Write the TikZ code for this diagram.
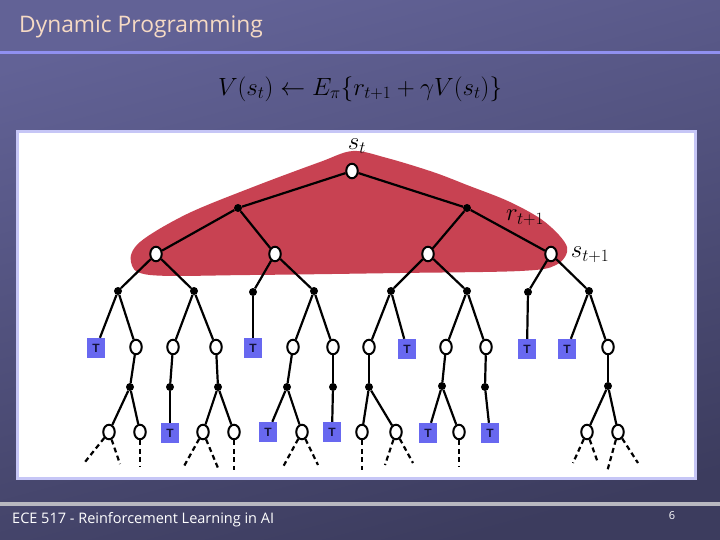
\documentclass[tikz,border=0pt]{standalone}
\usepackage{fontspec}
\setmainfont{Liberation Serif}
\newfontfamily\titlefont{Open Sans}
\newfontfamily\tfont{Liberation Sans}
\usetikzlibrary{shapes.geometric}
\definecolor{bgtop}{RGB}{98,98,150}
\definecolor{bgbot}{RGB}{60,60,94}
\definecolor{titlecol}{RGB}{246,218,196}
\definecolor{titleline}{RGB}{144,144,240}
\definecolor{panelborder}{RGB}{198,198,246}
\definecolor{footline}{RGB}{184,184,192}
\definecolor{blobred}{RGB}{200,66,82}
\definecolor{tblue}{RGB}{104,104,240}
\definecolor{tlabel}{RGB}{20,20,60}
\tikzset{
  onode/.style={ellipse, draw, line width=2pt, fill=white, minimum width=11.5pt, minimum height=14.5pt, inner sep=0pt},
  anode/.style={circle, fill=black, minimum size=8pt, inner sep=0pt},
  tnode/.style={rectangle, fill=tblue, minimum width=18pt, minimum height=20pt, inner sep=0pt, font=\tfont\bfseries\fontsize{12}{12}\selectfont, text=tlabel},
  treeedge/.style={line width=2.2pt, black},
  dashedge/.style={line width=2.2pt, black, dash pattern=on 5pt off 3.5pt},
  lbl/.style={font=\fontsize{25}{27}\selectfont, inner sep=0pt}
}
\begin{document}
\begin{tikzpicture}[x=1pt,y=-1pt]
\useasboundingbox (0,0) rectangle (720,540);
\shade[top color=bgtop, bottom color=bgbot, shading angle=15] (0,0) rectangle (720,540);
% title
\node[anchor=west, text=titlecol, font=\titlefont\fontsize{22.8}{25}\selectfont, inner sep=0pt] (title) at (19,27) {Dynamic Programming};
\draw[line width=3pt, titleline] (0,53) -- (720,53);
% formula
\node[font=\fontsize{25}{28}\selectfont, inner sep=0pt] (formula) at (360,89) {$V(s_t) \leftarrow E_{\pi}\Bigl\{r_{t+1} + \gamma V(s_t)\Bigr\}$};
% panel
\draw[line width=3pt, panelborder, fill=white] (17.5,131.5) rectangle (695.5,478.5);
% blob
\fill[blobred] plot[smooth cycle, tension=0.55] coordinates {(131,262) (140,242) (187,214) (253,187) (320,162) (353,151) (387,158) (433,172) (467,185) (510,202) (545,222) (567,247) (556,265) (520,271) (400,273) (250,275) (150,275)};
% footer
\draw[line width=4pt, footline] (0,504) -- (720,504);
\node[anchor=west, text=white, font=\titlefont\fontsize{14.5}{16}\selectfont, inner sep=0pt] (foot) at (12,520) {ECE 517 - Reinforcement Learning in AI};
\node[text=white, font=\titlefont\fontsize{11}{12}\selectfont, inner sep=0pt] (page) at (672,516) {6};
% labels
\node[lbl] (lst) at (357,146) {$s_t$};
\node[lbl] (lrt) at (525,218) {$r_{t+1}$};
\node[lbl] (lst1) at (590,255) {$s_{t+1}$};
% level 0
\node[onode] (r) at (352,171) {};
% level 1
\node[anode] (a1) at (238,208) {};
\node[anode] (a2) at (467,208) {};
% level 2
\node[onode] (s1) at (156,254) {};
\node[onode] (s2) at (275,254) {};
\node[onode] (s3) at (428,254) {};
\node[onode] (s4) at (551,254) {};
% level 3
\node[anode] (b1) at (118,291) {};
\node[anode] (b2) at (194,291) {};
\node[anode] (b3) at (253,292) {};
\node[anode] (b4) at (314,291) {};
\node[anode] (b5) at (391,291) {};
\node[anode] (b6) at (467,291) {};
\node[anode] (b7) at (528,292) {};
\node[anode] (b8) at (589,291) {};
% level 4
\node[tnode] (c1) at (96,348) {T};
\node[onode] (c2) at (136,347) {};
\node[onode] (c3) at (173,347) {};
\node[onode] (c4) at (216,347) {};
\node[tnode] (c5) at (253,348) {T};
\node[onode] (c6) at (293,347) {};
\node[onode] (c7) at (333,347) {};
\node[onode] (c8) at (369,347) {};
\node[tnode] (c9) at (407,349) {T};
\node[onode] (c10) at (446,347) {};
\node[onode] (c11) at (486,347) {};
\node[tnode] (c12) at (527,349) {T};
\node[tnode] (c13) at (567,349) {T};
\node[onode] (c14) at (608,347) {};
% level 5
\node[anode] (d2) at (130,387) {};
\node[anode] (d3) at (170,387) {};
\node[anode] (d4) at (218,387) {};
\node[anode] (d6) at (287,387) {};
\node[anode] (d7) at (333,387) {};
\node[anode] (d8) at (369,387) {};
\node[anode] (d10) at (442,386) {};
\node[anode] (d11) at (485,387) {};
\node[anode] (d14) at (608,386) {};
% level 6
\node[onode] (e1) at (109,432) {};
\node[onode] (e2) at (140,432) {};
\node[tnode] (e3) at (170,433) {T};
\node[onode] (e4) at (203,432) {};
\node[onode] (e5) at (234,432) {};
\node[tnode] (e6) at (268,432) {T};
\node[onode] (e7) at (302,432) {};
\node[tnode] (e8) at (332,432) {T};
\node[onode] (e9) at (362,432) {};
\node[onode] (e10) at (396,432) {};
\node[tnode] (e11) at (428,433) {T};
\node[onode] (e12) at (459,432) {};
\node[tnode] (e13) at (490,433) {T};
\node[onode] (e14) at (587,432) {};
\node[onode] (e15) at (618,432) {};
% dashed ends
\coordinate (f1) at (85,462);
\coordinate (f2) at (120,464);
\coordinate (f3) at (140,466);
\coordinate (f4) at (183,468);
\coordinate (f5) at (218,468);
\coordinate (f6) at (234,470);
\coordinate (f7) at (283,467);
\coordinate (f8) at (318,465);
\coordinate (f9) at (362,470);
\coordinate (f10) at (385,465);
\coordinate (f11) at (413,463);
\coordinate (f12) at (459,466);
\coordinate (f13) at (573,463);
\coordinate (f14) at (598,463);
\coordinate (f15) at (607,472);
\coordinate (f16) at (638,463);
% edges
\draw[treeedge] (r) -- (a1);
\draw[treeedge] (r) -- (a2);
\draw[treeedge] (a1) -- (s1);
\draw[treeedge] (a1) -- (s2);
\draw[treeedge] (a2) -- (s3);
\draw[treeedge] (a2) -- (s4);
\draw[treeedge] (s1) -- (b1);
\draw[treeedge] (s1) -- (b2);
\draw[treeedge] (s2) -- (b3);
\draw[treeedge] (s2) -- (b4);
\draw[treeedge] (s3) -- (b5);
\draw[treeedge] (s3) -- (b6);
\draw[treeedge] (s4) -- (b7);
\draw[treeedge] (s4) -- (b8);
\draw[treeedge] (b1) -- (c1);
\draw[treeedge] (b1) -- (c2);
\draw[treeedge] (b2) -- (c3);
\draw[treeedge] (b2) -- (c4);
\draw[treeedge] (b3) -- (c5);
\draw[treeedge] (b4) -- (c6);
\draw[treeedge] (b4) -- (c7);
\draw[treeedge] (b5) -- (c8);
\draw[treeedge] (b5) -- (c9);
\draw[treeedge] (b6) -- (c10);
\draw[treeedge] (b6) -- (c11);
\draw[treeedge] (b7) -- (c12);
\draw[treeedge] (b8) -- (c13);
\draw[treeedge] (b8) -- (c14);
\draw[treeedge] (c2) -- (d2);
\draw[treeedge] (c3) -- (d3);
\draw[treeedge] (c4) -- (d4);
\draw[treeedge] (c6) -- (d6);
\draw[treeedge] (c7) -- (d7);
\draw[treeedge] (c8) -- (d8);
\draw[treeedge] (c10) -- (d10);
\draw[treeedge] (c11) -- (d11);
\draw[treeedge] (c14) -- (d14);
\draw[treeedge] (d2) -- (e1);
\draw[treeedge] (d2) -- (e2);
\draw[treeedge] (d3) -- (e3);
\draw[treeedge] (d4) -- (e4);
\draw[treeedge] (d4) -- (e5);
\draw[treeedge] (d6) -- (e6);
\draw[treeedge] (d6) -- (e7);
\draw[treeedge] (d7) -- (e8);
\draw[treeedge] (d8) -- (e9);
\draw[treeedge] (d8) -- (e10);
\draw[treeedge] (d10) -- (e11);
\draw[treeedge] (d10) -- (e12);
\draw[treeedge] (d11) -- (e13);
\draw[treeedge] (d14) -- (e14);
\draw[treeedge] (d14) -- (e15);
\draw[dashedge] (e1) -- (f1);
\draw[dashedge] (e1) -- (f2);
\draw[dashedge] (e2) -- (f3);
\draw[dashedge] (e4) -- (f4);
\draw[dashedge] (e4) -- (f5);
\draw[dashedge] (e5) -- (f6);
\draw[dashedge] (e7) -- (f7);
\draw[dashedge] (e7) -- (f8);
\draw[dashedge] (e9) -- (f9);
\draw[dashedge] (e10) -- (f10);
\draw[dashedge] (e10) -- (f11);
\draw[dashedge] (e12) -- (f12);
\draw[dashedge] (e14) -- (f13);
\draw[dashedge] (e14) -- (f14);
\draw[dashedge] (e15) -- (f15);
\draw[dashedge] (e15) -- (f16);
\end{tikzpicture}
\end{document}
